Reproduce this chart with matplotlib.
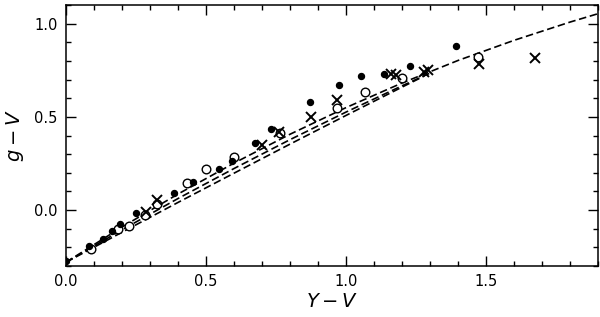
import matplotlib
matplotlib.use("Agg")
import matplotlib.pyplot as plt
from matplotlib.ticker import MultipleLocator

# filled circles
filled_x = [0.00, 0.083, 0.131, 0.164, 0.193, 0.251, 0.384, 0.452, 0.548, 0.593,
            0.673, 0.733, 0.871, 0.975, 1.053, 1.136, 1.229, 1.393]
filled_y = [-0.272, -0.193, -0.155, -0.113, -0.075, -0.018, 0.093, 0.148, 0.223, 0.264,
            0.360, 0.434, 0.580, 0.670, 0.718, 0.732, 0.774, 0.878]

# open circles
open_x = [0.088, 0.187, 0.226, 0.283, 0.326, 0.432, 0.500, 0.599, 0.764, 0.967,
          1.068, 1.200, 1.470]
open_y = [-0.207, -0.104, -0.086, -0.027, 0.032, 0.143, 0.218, 0.285, 0.411, 0.545,
          0.634, 0.710, 0.821]

# crosses
cross_x = [0.286, 0.325, 0.700, 0.760, 0.874, 0.969, 1.160, 1.178, 1.279, 1.291,
           1.473, 1.673]
cross_y = [-0.011, 0.054, 0.348, 0.420, 0.500, 0.589, 0.732, 0.723, 0.741, 0.754,
           0.782, 0.816]

# dashed relations
line1_x = [0.0, 0.2, 0.4, 0.6, 0.8, 1.0, 1.2, 1.4, 1.6, 1.8, 1.9]
line1_y = [-0.280, -0.091, 0.086, 0.252, 0.407, 0.550, 0.682, 0.803, 0.911, 1.009, 1.054]
line2_x = [0.0, 0.2, 0.4, 0.6, 0.8, 1.0, 1.2, 1.3]
line2_y = [-0.280, -0.106, 0.062, 0.223, 0.378, 0.526, 0.667, 0.735]
line3_x = [0.0, 0.2, 0.4, 0.6, 0.8, 1.0, 1.2, 1.28]
line3_y = [-0.280, -0.119, 0.041, 0.198, 0.354, 0.508, 0.660, 0.720]

fig = plt.figure(figsize=(6.0, 3.17), dpi=100)
ax = fig.add_axes([0.11, 0.161, 0.887, 0.823])

dash = (0, (4.5, 2.2))
for lx, ly in [(line1_x, line1_y), (line2_x, line2_y), (line3_x, line3_y)]:
    ax.plot(lx, ly, color="black", lw=1.2, linestyle=dash)

ax.plot(open_x, open_y, linestyle="none", marker="o", markersize=6.2,
        markerfacecolor="white", markeredgecolor="black", markeredgewidth=1.0)
ax.plot(filled_x, filled_y, linestyle="none", marker="o", markersize=4.3,
        color="black")
ax.plot(cross_x, cross_y, linestyle="none", marker="x", markersize=7,
        color="black", markeredgewidth=1.4)

ax.set_xlim(0, 1.9)
ax.set_ylim(-0.3, 1.1)
ax.xaxis.set_major_locator(MultipleLocator(0.5))
ax.xaxis.set_minor_locator(MultipleLocator(0.1))
ax.yaxis.set_major_locator(MultipleLocator(0.5))
ax.yaxis.set_minor_locator(MultipleLocator(0.1))
ax.tick_params(which="both", direction="in", top=True, right=True, width=1.0)
ax.tick_params(which="major", length=7, labelsize=10.5, pad=6)
ax.tick_params(which="minor", length=3.5)
for s in ax.spines.values():
    s.set_linewidth(1.1)

ax.set_xlabel("$Y-V$", fontsize=14, labelpad=2)
ax.set_ylabel("$g-V$", fontsize=14, labelpad=6)

fig.savefig("out.png", dpi=100)
